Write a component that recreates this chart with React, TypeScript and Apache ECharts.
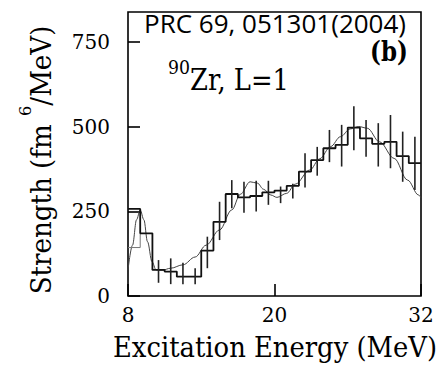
import React, { useEffect, useRef } from 'react';
import * as echarts from 'echarts';

// Histogram: lower bin edges (MeV) and strength per 1-MeV bin (fm^6/MeV)
const binLowerEdges = [8, 9, 10, 11, 12, 13, 14, 15, 16, 17, 18, 19, 20, 21, 22, 23, 24, 25, 26, 27, 28, 29, 30, 31];
const binWidth = 1;
const strengthHist = [257, 185, 77, 72, 57, 57, 134, 219, 301, 291, 295, 306, 311, 325, 367, 401, 436, 446, 497, 465, 449, 455, 413, 392];

// Secondary thin step near the low-energy peak
const altHistEdges = [8, 9];
const altHistValues = [143, 185];

// Error bars (bin centres, lower and upper ends)
const errorEnergy = [10.5, 11.5, 12.5, 13.5, 14.5, 15.5, 16.5, 17.5, 18.5, 19.5, 20.5, 21.5, 22.5, 23.5, 24.5, 25.5, 26.5, 27.5, 28.5, 29.5, 30.5, 31.5];
const errorLow = [39, 35, 35, 35, 82, 165, 259, 246, 249, 269, 274, 288, 320, 355, 395, 382, 430, 411, 382, 377, 337, 313];
const errorHigh = [106, 111, 98, 82, 175, 278, 342, 337, 340, 340, 323, 331, 421, 440, 490, 505, 560, 519, 510, 534, 485, 470];

// Smooth fitted curve
const curveEnergy = [8.0, 8.37, 8.7, 9.0, 9.3, 9.6, 9.97, 10.3, 10.8, 11.5, 12.5, 13.5, 14.4, 15.5, 16.5, 17.2, 18.0, 18.6, 19.1, 19.7, 20.2, 21.0, 21.7, 22.9, 23.7, 24.6, 25.4, 26.2, 26.9, 27.6, 28.6, 29.8, 30.9, 31.8, 32.0];
const curveStrength = [77, 150, 225, 254, 225, 160, 101, 77, 76, 82, 92, 115, 150, 195, 254, 300, 337, 333, 315, 298, 291, 303, 330, 372, 405, 441, 470, 493, 500, 495, 455, 406, 342, 298, 290];

const xTicks = [8, 20, 32];
const yTicks = [0, 250, 500, 750];
const xMin = 8;
const xMax = 32;
const yMin = 0;
const yMax = 838;

const SERIF = 'DejaVu Serif';
const SANS = 'Open Sans';

export default function App() {
  const ref = useRef<HTMLDivElement>(null);

  useEffect(() => {
    document.body.style.margin = '0';
    const chart = echarts.init(ref.current as HTMLDivElement, null, { renderer: 'svg' });

    const histData: number[][] = binLowerEdges.map((e, i) => [e, strengthHist[i]]);
    const last = binLowerEdges.length - 1;
    histData.push([binLowerEdges[last] + binWidth, strengthHist[last]]);

    const altData = altHistEdges.map((e, i) => [e, altHistValues[i]]);
    const errData = errorEnergy.map((e, i) => [e, errorLow[i], errorHigh[i]]);
    const curveData = curveEnergy.map((e, i) => [e, curveStrength[i]]);

    chart.setOption({
      animation: false,
      textStyle: { fontFamily: SERIF },
      grid: {
        left: 128,
        top: 12,
        right: 17,
        bottom: 75,
        show: true,
        borderColor: '#000',
        borderWidth: 1.6,
        backgroundColor: 'transparent',
      },
      xAxis: {
        type: 'value',
        min: xMin,
        max: xMax,
        axisLine: { show: false },
        splitLine: { show: false },
        axisTick: { show: true, inside: true, length: 12, customValues: xTicks, lineStyle: { color: '#000', width: 1.6 } },
        axisLabel: { customValues: xTicks, margin: 9, fontFamily: SERIF, fontSize: 20, color: '#000' },
      },
      yAxis: {
        type: 'value',
        min: yMin,
        max: yMax,
        axisLine: { show: false },
        splitLine: { show: false },
        axisTick: { show: true, inside: true, length: 12, customValues: yTicks, lineStyle: { color: '#000', width: 1.6 } },
        axisLabel: { customValues: yTicks, margin: 18, fontFamily: SERIF, fontSize: 20, color: '#000' },
      },
      series: [
        {
          type: 'line',
          data: curveData,
          smooth: 0.35,
          smoothMonotone: 'x',
          showSymbol: false,
          lineStyle: { color: '#444', width: 1 },
          z: 2,
        },
        {
          type: 'line',
          data: altData,
          step: 'end',
          showSymbol: false,
          lineStyle: { color: '#777', width: 1 },
          z: 3,
        },
        {
          type: 'line',
          data: histData,
          step: 'end',
          showSymbol: false,
          lineStyle: { color: '#111', width: 1.8 },
          z: 4,
        },
        {
          type: 'custom',
          data: errData,
          encode: { x: 0, y: [1, 2] },
          z: 5,
          renderItem: (params: any, api: any) => {
            const x = api.value(0);
            const p1 = api.coord([x, api.value(1)]);
            const p2 = api.coord([x, api.value(2)]);
            return {
              type: 'line',
              shape: { x1: p1[0], y1: p1[1], x2: p2[0], y2: p2[1] },
              style: { stroke: '#222', lineWidth: 1.6 },
            };
          },
        },
      ],
      graphic: [
        {
          type: 'text',
          x: 275,
          y: 23,
          style: {
            text: 'PRC 69, 051301(2004)',
            fill: '#000',
            fontFamily: SANS,
            fontSize: 26,
            lineHeight: 22,
            align: 'center',
            verticalAlign: 'middle',
          },
          z: 10,
        },
        {
          type: 'text',
          x: 389,
          y: 51,
          scaleX: 0.82,
          style: {
            text: '(b)',
            fill: '#000',
            fontFamily: SERIF,
            fontWeight: 'bold',
            fontSize: 28,
            lineHeight: 24,
            align: 'center',
            verticalAlign: 'middle',
          },
          z: 10,
        },
        {
          type: 'text',
          x: 168,
          y: 67,
          scaleX: 0.91,
          style: {
            text: '90',
            fill: '#000',
            fontFamily: SERIF,
            fontSize: 19,
            align: 'left',
            verticalAlign: 'middle',
          },
          z: 10,
        },
        {
          type: 'text',
          x: 190,
          y: 80,
          scaleX: 0.86,
          style: {
            text: 'Zr, L=1',
            fill: '#000',
            fontFamily: SERIF,
            fontSize: 30,
            align: 'left',
            verticalAlign: 'middle',
          },
          z: 10,
        },
        {
          type: 'text',
          x: 275,
          y: 347,
          scaleX: 0.94,
          style: {
            text: 'Excitation Energy (MeV)',
            fill: '#000',
            fontFamily: SERIF,
            fontSize: 27.5,
            align: 'center',
            verticalAlign: 'middle',
          },
          z: 10,
        },
        {
          type: 'text',
          x: 41,
          y: 160,
          rotation: Math.PI / 2,
          scaleX: 0.95,
          style: {
            text: '{a|Strength (fm }{s|6}{a|/MeV)}',
            fill: '#000',
            fontFamily: SERIF,
            fontSize: 27.5,
            align: 'center',
            verticalAlign: 'middle',
            rich: {
              a: { fontFamily: SERIF, fontSize: 27.5, lineHeight: 48, verticalAlign: 'middle', fill: '#000' },
              s: { fontFamily: SERIF, fontSize: 17, lineHeight: 18, verticalAlign: 'top', fill: '#000' },
            },
          },
          z: 10,
        },
      ],
    });

    return () => {
      chart.dispose();
    };
  }, []);

  return <div ref={ref} style={{ width: 438, height: 371 }} />;
}
